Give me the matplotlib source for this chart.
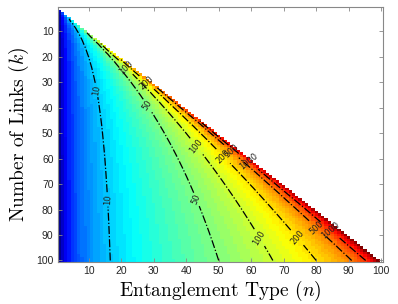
import numpy as np
import matplotlib
matplotlib.use('Agg')
import matplotlib.pyplot as plt
from matplotlib.colors import LinearSegmentedColormap

plt.rcParams['mathtext.fontset'] = 'cm'

# Grid of entanglement types (n) and link counts (k)
n_vals = np.arange(1, 101)
k_vals = np.arange(1, 101)

# Contour levels and where their labels sit (k row, level)
levels = [10, 50, 100, 200, 500, 1000]
label_rows = [33, 76, 39, 76, 24, 55, 91, 30, 59, 91, 57, 87, 61, 88]
label_levels = [10, 10, 50, 50, 100, 100, 100, 200, 200, 200, 500, 500, 1000, 1000]

x_ticks = [10, 20, 30, 40, 50, 60, 70, 80, 90, 100]
y_ticks = [10, 20, 30, 40, 50, 60, 70, 80, 90, 100]

# MATLAB style jet (64 levels)
matlab_jet = LinearSegmentedColormap('matlab_jet', {
    'red':   [(0, 0, 0), (0.375, 0, 0), (0.625, 1, 1), (0.875, 1, 1), (1, 0.5, 0.5)],
    'green': [(0, 0, 0), (0.125, 0, 0), (0.375, 1, 1), (0.625, 1, 1), (0.875, 0, 0), (1, 0, 0)],
    'blue':  [(0, 0.5625, 0.5625), (0.125, 1, 1), (0.375, 1, 1), (0.625, 0, 0), (1, 0, 0)],
}, N=64)

N, K = np.meshgrid(n_vals, k_vals)
valid = N < K
vals = np.where(valid, N * K / (2.0 * np.where(valid, K - N, 1)), np.nan)
vals = np.ma.masked_invalid(vals)

fig = plt.figure(figsize=(3.98, 3.04), dpi=100)
ax = fig.add_axes([0.145, 0.139, 0.817, 0.837])

n_edges = np.arange(0.5, 101, 1)
k_edges = np.arange(0.5, 101, 1)
ax.pcolormesh(n_edges, k_edges, np.ma.log10(vals), cmap=matlab_jet,
              shading='flat', antialiased=False)

cs = ax.contour(N, K, vals, levels=levels, colors='k', linestyles='dashdot',
                linewidths=0.9)
# place labels on the curves
manual = []
for k, lv in zip(label_rows, label_levels):
    manual.append((2.0 * lv * k / (k + 2.0 * lv), k))
ax.clabel(cs, fmt='%d', fontsize=6, inline=True, inline_spacing=2,
          manual=manual, colors='#222222')

ax.set_xlim(0.5, 100.5)
ax.set_ylim(100.5, 0.5)
ax.set_xticks(x_ticks)
ax.set_yticks(y_ticks)
ax.tick_params(direction='in', length=3, width=0.6, top=True, right=True,
               labelsize=7.5, colors='#888888', labelcolor='#262626', pad=3)
for lbl in ax.get_xticklabels() + ax.get_yticklabels():
    lbl.set_fontfamily('Liberation Sans')
for spine in ax.spines.values():
    spine.set_edgecolor('#888888')
    spine.set_linewidth(0.8)

ax.set_xlabel('Entanglement Type $(n)$', fontsize=14, fontfamily='cmr10',
              labelpad=2)
ax.set_ylabel('Number of Links $(k)$', fontsize=14, fontfamily='cmr10',
              labelpad=4)

fig.savefig('out.png', dpi=100)
